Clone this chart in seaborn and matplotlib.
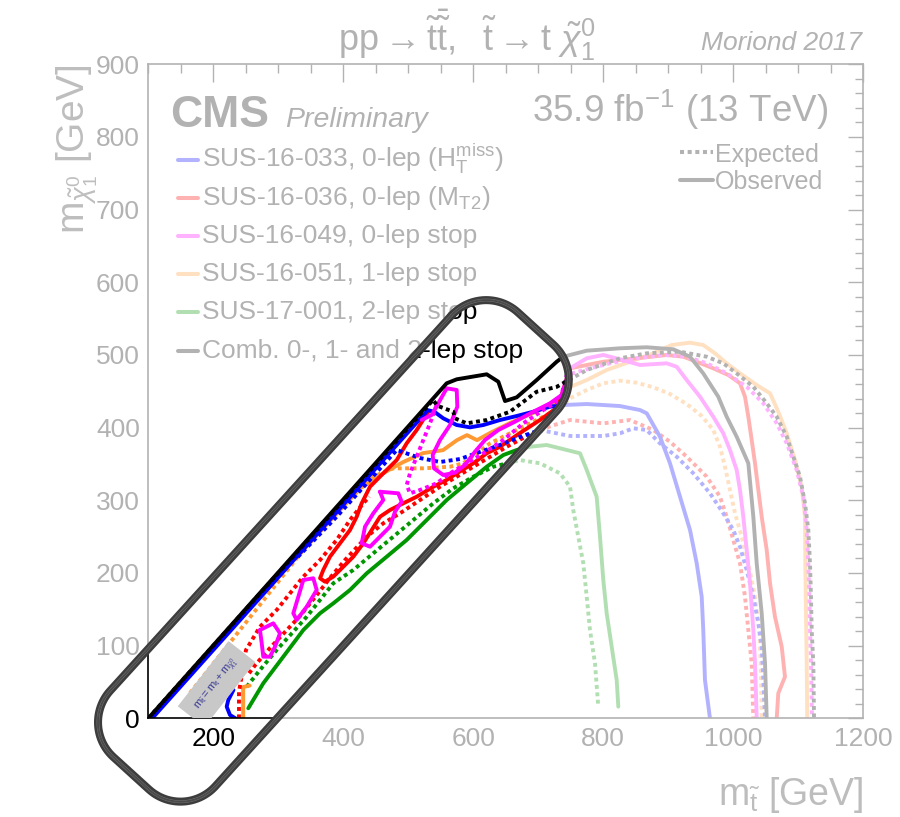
import numpy as np
import matplotlib
matplotlib.use("Agg")
import matplotlib.pyplot as plt
import seaborn as sns
from matplotlib.path import Path
from matplotlib.patches import PathPatch
from matplotlib.lines import Line2D
from matplotlib.transforms import Affine2D
from matplotlib.ticker import MultipleLocator

# ---------------- data (GeV) ----------------
comb_obs_x = [100, 559, 574.5, 620.6, 638.5, 648.8, 666.8, 697.5, 728.3, 738.5, 774.5, 825.7, 866.8, 907.7, 933.4, 953.8, 976.9, 989.8, 1005.2, 1023.1, 1030.8, 1036.0, 1043.7, 1048.8, 1051.4]
comb_obs_y = [0, 461, 466.5, 473.4, 463.2, 436.6, 441.7, 465.5, 490.7, 497.6, 505.9, 509.2, 510.6, 507.8, 497.6, 474.6, 442.5, 415.0, 387.5, 350.9, 277.4, 213.2, 144.4, 75.6, 0]
comb_exp_x = [100, 538, 545, 569.2, 571.8, 589.8, 620.6, 656.5, 697.5, 728, 774.5, 825.7, 866.8, 918, 959.1, 984.6, 1005.2, 1030.8, 1051.4, 1066.8, 1082.2, 1092.3, 1102.6, 1110.3, 1115.4, 1118, 1119.5, 1120.6, 1123.1, 1124.2]
comb_exp_y = [0, 438, 430, 421.9, 412.8, 405.9, 410.5, 421.9, 449.4, 456, 479.3, 495.4, 502.3, 504.5, 497.6, 488.5, 474.7, 456.3, 433.5, 415, 387.5, 360, 332.5, 295.9, 259.1, 213.3, 167.3, 121.5, 75.7, 0]

blue_obs_x = [106, 530, 540, 553.8, 574.5, 594.9, 615.4, 641.1, 666.8, 692.3, 718, 738.5, 774.5, 825.7, 856.5, 866.8, 887.2, 902.6, 918, 933.4, 943.7, 951.4, 953.8, 956.4, 964.1]
blue_obs_y = [0, 424, 421.9, 412.8, 403.6, 400.4, 403.6, 410.5, 416, 421.9, 428.8, 431.1, 432.5, 429.7, 424.2, 419.7, 387.5, 350.9, 305, 259.1, 213.3, 167.3, 121.5, 52.7, 0]
blue_obs2_x = [231, 223, 220.6, 225.7, 234]
blue_obs2_y = [39, 25, 16, 4.5, 0]
blue_exp_x = [330, 389.8, 482.2, 518, 548.8, 579.5, 610.3, 641.1, 671.8, 702.6, 748.8, 800, 825.7, 846.2, 866.8, 887.2, 912.9, 938.5, 964.2, 984.6, 1000, 1010.3, 1020.6, 1030.8, 1038.5, 1043.7, 1046.2, 1048.8]
blue_exp_y = [222, 277.4, 369.2, 358.2, 352.7, 356.8, 366.5, 376.1, 387.1, 396.7, 388.5, 388.5, 392.2, 399.1, 396.7, 378.4, 360, 337.1, 309.6, 282.1, 259.1, 236.1, 204.1, 167.3, 130.7, 98.5, 52.7, 0]

red_obs_x = [530.8, 512.9, 497.5, 482.2, 461.5, 441.1, 428.3, 420.6, 410.3, 394.9, 379.5, 369.2, 364.2, 371.8, 384.6, 400, 415.4, 430.8, 443.7, 456.5, 471.8, 492.3, 512.9, 538.5, 559.1, 574.5, 600, 620.6, 641.1, 671.8, 702.6, 730.3, 748.8, 800, 851.4, 897.5, 923.1, 943.7, 969.2, 992.3, 1010.3, 1018, 1023.1, 1028.3, 1033.4, 1038.5, 1043.7, 1051.4, 1056.5, 1064.1, 1074.5, 1079.5, 1069.2, 1066.8]
red_obs_y = [421.9, 396.7, 378.4, 355.4, 337.1, 318.7, 295.9, 277.4, 259.1, 240.8, 222.4, 204.1, 192.7, 188, 194.9, 208.6, 222.4, 240.8, 259.1, 277.4, 286.6, 295.9, 304.9, 318.7, 328, 337.1, 350.9, 364.7, 373.7, 392.6, 410.5, 428.4, 481.6, 490.7, 495.4, 500, 497.6, 490.7, 481.6, 472.4, 461, 442.5, 415, 383, 350.9, 314.2, 277.4, 231.6, 185.8, 139.8, 98.5, 57.2, 34.4, 0]
red_exp_a_x = [239.5, 239.5, 250.3, 271.8, 297.5, 318, 338.5, 364.2, 389.8, 410.3, 430.8, 440]
red_exp_a_y = [0, 36.2, 94, 126, 149, 172, 194.9, 217.8, 245.4, 272.9, 295.9, 305]
red_exp_b_x = [255, 264.5, 287.2, 310.3, 333.4, 358, 379.5, 402.6, 436, 461.5, 487.2, 518, 548.8, 574.5, 600, 626.2, 651.4, 679.5, 710.3, 748.8, 800, 841, 876.9, 902.6, 928.3, 959.1, 979.5, 989.8, 1000, 1010.3, 1018, 1023.1, 1028.3, 1030.8]
red_exp_b_y = [62, 73.3, 96.7, 118.8, 140.8, 168.3, 193.1, 217.8, 249.9, 268.3, 282.1, 300.4, 318.7, 332.5, 346.2, 360, 373.7, 387.1, 399.5, 410.5, 405.9, 410.5, 396.7, 380.6, 360, 332.5, 304.9, 277.4, 245.4, 213.3, 167.3, 121.5, 75.7, 0]

mag_obs_x = [520.6, 536, 559.1, 574.5, 575.4, 564.2, 548.8, 537.5, 539.5, 553.8, 571.8, 587.2, 602.6, 618, 638.5, 664.2, 692.3, 718, 736, 748.8, 774.5, 800, 825.7, 856.5, 897.5, 912.9, 928.3, 948.8, 969.2, 984.6, 994.9, 1005.2, 1010.3, 1015.4, 1020.6, 1025.7, 1030.8, 1033.4, 1036]
mag_obs_y = [410.6, 417.4, 454.1, 451.8, 428.8, 403.6, 383, 362.4, 344, 334.8, 338, 348.6, 366.9, 383, 396.7, 408.2, 421.9, 433.5, 444.9, 481.6, 495.4, 500, 494, 486.2, 488.5, 483.8, 465.5, 442.5, 415, 392.2, 369.2, 341.7, 314.2, 277.4, 231.6, 185.8, 121.5, 75.7, 0]
mag_isl_a_x = [456.5, 484.6, 489.8, 479.5, 471.8, 451.4, 441.1, 428.3, 433.4, 446.2, 461.5, 456.5]
mag_isl_a_y = [311.8, 309.6, 298.1, 284.3, 263.7, 245.4, 236.1, 240.8, 263.7, 282.1, 300.4, 311.8]
mag_isl_b_x = [338.5, 353.8, 359.1, 343.7, 328.3, 323.1, 330.8, 338.5]
mag_isl_b_y = [190.3, 192.7, 176.6, 153.6, 135.3, 144.5, 167.3, 190.3]
mag_isl_c_x = [271.8, 292.3, 302.6, 294.9, 287.2, 276.9, 274.5, 271.8]
mag_isl_c_y = [121.5, 130.7, 117, 98.5, 84.8, 84.8, 103.2, 121.5]
mag_exp_x = [543.7, 533.4, 523.1, 512.9, 502.6, 497.5, 502.6, 518, 543.7, 564.2, 589.8, 615.4, 646.2, 676.9, 707.7, 733.4, 743.7, 774.5, 810.3, 851.4, 892.3, 928.3, 959.1, 989.8, 1020.6, 1046.2, 1066.8, 1082.2, 1097.5, 1107.7, 1112.9, 1115.4, 1117, 1118, 1119.5, 1121.1]
mag_exp_y = [431.3, 405.9, 383, 360, 337.1, 321, 309.6, 314.2, 323.4, 337.1, 350.9, 364.7, 383, 405.9, 424.2, 438, 472.4, 480.3, 488.5, 495.4, 500, 497.6, 488.5, 474.7, 456.3, 433.5, 406, 378.4, 341.7, 304.9, 259.1, 213.3, 167.3, 121.5, 75.7, 0]

ora_obs_x = [402.6, 433.4, 464.1, 491.8, 522.6, 553.4, 574.9, 590.3, 605.7, 625.7, 656.5, 691.8, 728.8, 743.7, 774.5, 805.2, 841, 876.9, 905.2, 933.4, 953.8, 971.8, 989.8, 1010.3, 1036, 1056.5, 1069.2, 1082.2, 1094.9, 1105.2, 1110.3, 1110.8, 1111.8, 1112.9, 1113.8]
ora_obs_y = [302.9, 320.8, 338.7, 352.5, 364.9, 369, 382.8, 389.7, 382.8, 392.6, 406.4, 420.1, 436.6, 454.1, 465.5, 479.3, 490.7, 502.3, 513.7, 516.9, 513.7, 502.3, 488.5, 474.7, 458.6, 447.2, 421.9, 392.2, 355.4, 318.7, 277.4, 213.3, 144.5, 75.7, 0]
ora_obs2_x = [246, 246, 256]
ora_obs2_y = [0, 43, 45]
ora_exp_x = [164.2, 338.5, 394.9, 441, 476.9, 523.1, 564.2, 584.6, 605.2, 625.7, 656.5, 687.2, 718, 736, 748.8, 774.5, 800, 825.7, 851.4, 877, 902.6, 928.3, 951.4, 969.2, 979.5, 987.2, 994.9, 1002.6, 1012.9, 1023.1, 1033.4, 1040, 1042.2, 1043.7]
ora_exp_y = [34.8, 231.6, 286.6, 330.7, 344, 344, 346.2, 350.9, 364.7, 378.4, 392.2, 405.9, 419.7, 428.8, 440.3, 451.8, 461, 464.6, 461.8, 455.5, 446.3, 432.5, 416, 396.7, 373.7, 346.2, 314.2, 282.1, 249.9, 213.3, 167.3, 121.5, 75.7, 0]

grn_obs_x = [253.8, 276.9, 307.7, 338.5, 364.2, 384.6, 410.3, 436, 466.8, 497.5, 528.3, 559.1, 589.8, 620.6, 646.2, 666.8, 687.2, 712.9, 764.2, 774.5, 789.8, 794.9, 800, 805.2, 812.9, 820.6, 823.1]
grn_obs_y = [13.8, 48.2, 84.8, 121.5, 144.5, 158.2, 176.6, 199.5, 222.4, 245.4, 272.9, 300.4, 323.4, 346.2, 362.3, 369.2, 373.7, 376.1, 364.7, 341.7, 304.9, 249.9, 190.3, 144.5, 98.5, 52.7, 16]
grn_exp_x = [251.4, 271.8, 297.5, 323.1, 343.7, 384.6, 415.4, 446.2, 476.9, 507.7, 538.5, 569.2, 600, 630.8, 671.8, 702.6, 733.4, 748.8, 753.8, 761.5, 769.2, 774.5, 779.5, 787.2, 792.3]
grn_exp_y = [43.5, 66.5, 94, 119.2, 139.8, 185.8, 204.1, 227.1, 249.9, 272.9, 295.9, 316.5, 332.5, 346.2, 355.4, 350.9, 337.1, 318.7, 286.6, 249.9, 213.3, 167.3, 121.5, 75.7, 16]

legend_labels = [r"SUS-16-033, 0-lep ($\mathrm{H}_{\mathrm{T}}^{\mathrm{miss}}$)",
                 r"SUS-16-036, 0-lep ($\mathrm{M}_{\mathrm{T2}}$)",
                 "SUS-16-049, 0-lep stop",
                 "SUS-16-051, 1-lep stop",
                 "SUS-17-001, 2-lep stop",
                 "Comb. 0-, 1- and 2-lep stop"]
legend_colors = ["#0000ff", "#ff0000", "#ff00ff", "#ff9933", "#009600", "#000000"]
diag_label = r"$\mathrm{m}_{\tilde{\mathrm{t}}} = \mathrm{m}_{\mathrm{t}} + \mathrm{m}_{\tilde{\chi}^{0}_{1}}$"
diag_label_pos = (205, 47)

# ---------------- style ----------------
sns.set_theme(style="white")
plt.rcParams["font.family"] = ["Liberation Sans", "DejaVu Sans"]
plt.rcParams["mathtext.fontset"] = "custom"
plt.rcParams["mathtext.rm"] = "Liberation Sans"
plt.rcParams["mathtext.it"] = "Liberation Sans:italic"
plt.rcParams["mathtext.bf"] = "Liberation Sans:bold"
plt.rcParams["mathtext.sf"] = "Liberation Sans"

W, H = 900, 817
fig = plt.figure(figsize=(W / 100, H / 100), dpi=100)
fig.patch.set_facecolor("white")
X0, X1, Y0, Y1 = 148.3, 863.3, 64.3, 718.3
ax = fig.add_axes([X0 / W, 1 - Y1 / H, (X1 - X0) / W, (Y1 - Y0) / H])
ax.set_facecolor("white")
PX = Affine2D().scale(1 / W, -1 / H).translate(0, 1) + fig.transFigure

DOT = (0, (1.0, 0.9))
LW = 2.8

def curve(xs, ys, color, dotted=False, lw=LW, z=2.0):
    sns.lineplot(x=np.asarray(xs, float), y=np.asarray(ys, float), sort=False,
                 estimator=None, color=color, linewidth=lw,
                 linestyle=DOT if dotted else "-", ax=ax, zorder=z, legend=False)

BLUE, RED, MAG, ORA, GRN, BLK = legend_colors

curve(grn_exp_x, grn_exp_y, GRN, True)
curve(grn_obs_x, grn_obs_y, GRN)
curve(ora_exp_x, ora_exp_y, ORA, True)
curve(ora_obs_x, ora_obs_y, ORA)
curve(ora_obs2_x, ora_obs2_y, ORA)
curve(red_exp_a_x, red_exp_a_y, RED, True)
curve(red_exp_b_x, red_exp_b_y, RED, True)
curve(red_obs_x, red_obs_y, RED)
curve(blue_exp_x, blue_exp_y, BLUE, True)
curve(blue_obs_x, blue_obs_y, BLUE)
curve(blue_obs2_x, blue_obs2_y, BLUE)
curve(mag_exp_x, mag_exp_y, MAG, True)
curve(mag_obs_x, mag_obs_y, MAG)
curve(mag_isl_a_x, mag_isl_a_y, MAG)
curve(mag_isl_b_x, mag_isl_b_y, MAG)
curve(mag_isl_c_x, mag_isl_c_y, MAG)
curve(comb_exp_x, comb_exp_y, BLK, True, z=2.2)
curve(comb_obs_x, comb_obs_y, BLK, z=2.3)

ax.text(diag_label_pos[0], diag_label_pos[1], diag_label, rotation=52, rotation_mode="anchor",
        ha="center", va="center", fontsize=8, color="#3a3a96", clip_on=True, zorder=2.6,
        bbox=dict(boxstyle="square,pad=0.9", facecolor="#c8c8c8", edgecolor="none"))

ax.set_xlim(100, 1200)
ax.set_ylim(0, 900)
ax.xaxis.set_major_locator(MultipleLocator(200))
ax.xaxis.set_minor_locator(MultipleLocator(50))
ax.yaxis.set_major_locator(MultipleLocator(100))
ax.yaxis.set_minor_locator(MultipleLocator(20))
ax.tick_params(which="both", direction="in", top=True, right=True, width=1.0, color="black",
               labelsize=19, labelcolor="black")
ax.tick_params(axis="x", which="major", length=13, pad=6)
ax.tick_params(axis="x", which="minor", length=6.5)
ax.tick_params(axis="y", which="major", length=11, pad=6)
ax.tick_params(axis="y", which="minor", length=6)
for s in ax.spines.values():
    s.set_color("black")
    s.set_linewidth(1.2)

ax.set_xlabel(r"$\mathrm{m}_{\tilde{\mathrm{t}}}$ [GeV]", fontsize=27, loc="right")
ax.xaxis.set_label_coords(1.0, -0.086)
ax.set_ylabel(r"$\mathrm{m}_{\tilde{\chi}^{0}_{1}}$ [GeV]", fontsize=28, loc="top")
ax.yaxis.set_label_coords(-0.068, 1.0)

# ---------------- header texts ----------------
fig.text(467, 51, r"$\mathrm{pp}\rightarrow\tilde{\mathrm{t}}\bar{\tilde{\mathrm{t}}},\ \ \tilde{\mathrm{t}}\rightarrow\mathrm{t}\ \tilde{\chi}^{0}_{1}$",
         transform=PX, ha="center", va="baseline", fontsize=26, color="black")
fig.text(862, 50, "Moriond 2017", transform=PX, ha="right", va="baseline", fontsize=19,
         style="italic", color="black")
fig.text(170, 127, "CMS", transform=PX, ha="left", va="baseline", fontsize=32,
         weight="bold", color="black")
fig.text(285, 127, "Preliminary", transform=PX, ha="left", va="baseline", fontsize=20.5,
         style="italic", color="black")
fig.text(828, 122, r"35.9 fb$^{-1}$ (13 TeV)", transform=PX, ha="right", va="baseline",
         fontsize=26.5, color="black")

# Expected / Observed key
fig.add_artist(Line2D([680, 713], [152, 152], transform=PX, color="black", lw=2.9, linestyle=DOT))
fig.add_artist(Line2D([680, 713], [180, 180], transform=PX, color="black", lw=2.9))
fig.text(715, 161.7, "Expected", transform=PX, ha="left", va="baseline", fontsize=18, color="black")
fig.text(715, 189, "Observed", transform=PX, ha="left", va="baseline", fontsize=18, color="black")

# analysis legend
for i, (lab, col) in enumerate(zip(legend_labels, legend_colors)):
    yb = 166.7 + i * 38.2
    fig.add_artist(Line2D([178, 198], [yb - 7, yb - 7], transform=PX, color=col, lw=2.9))
    fig.text(201.7, yb, lab, transform=PX, ha="left", va="baseline", fontsize=19, color="black")

# ---------------- highlight: fade everything outside a rounded box ----------------
c0 = np.array([202.5, 694.8])
u_dir = np.array([0.673, -0.740])
n_dir = np.array([0.740, 0.673])

def rrect(umin, umax, hw, r, k=28):
    pts = []
    for cu, cn, a0, a1 in [(umax - r, -hw + r, -90, 0), (umax - r, hw - r, 0, 90),
                           (umin + r, hw - r, 90, 180), (umin + r, -hw + r, 180, 270)]:
        t = np.radians(np.linspace(a0, a1, k))
        U = cu + r * np.cos(t)
        N = cn + r * np.sin(t)
        pts.append(c0 + np.outer(U, u_dir) + np.outer(N, n_dir))
    pts = np.vstack(pts)
    return np.vstack([pts, pts[:1]])

def area(p):
    return 0.5 * np.sum(p[:-1, 0] * p[1:, 1] - p[1:, 0] * p[:-1, 1])

UMIN, UMAX, HW, RAD = -106, 495, 71, 47
hole = rrect(UMIN, UMAX, HW, RAD)
outer = np.array([[0, 0], [W, 0], [W, H], [0, H], [0, 0]], float)
if np.sign(area(outer)) == np.sign(area(hole)):
    hole = hole[::-1]
verts = np.vstack([outer, hole])
codes = ([Path.MOVETO] + [Path.LINETO] * 3 + [Path.CLOSEPOLY] +
         [Path.MOVETO] + [Path.LINETO] * (len(hole) - 2) + [Path.CLOSEPOLY])
fig.add_artist(PathPatch(Path(verts, codes), transform=PX, facecolor="white",
                         edgecolor="none", alpha=0.7, zorder=50))

# sketchy outline (dark stroke with faint inner streaks)
main = rrect(UMIN, UMAX, HW, RAD)
fig.add_artist(Line2D(main[:, 0], main[:, 1], transform=PX, color="#3d3d3d", lw=5.8,
                      solid_joinstyle="round", zorder=60))
for d, col, lw in [(1.2, "#6f6f6f", 0.45), (-1.0, "#777777", 0.4), (0.2, "#5a5a5a", 0.35)]:
    p = rrect(UMIN - d, UMAX + d, HW + d, RAD + d)
    fig.add_artist(Line2D(p[:, 0], p[:, 1], transform=PX, color=col, lw=lw, zorder=61))

fig.savefig("out.png", dpi=100, facecolor="white")
